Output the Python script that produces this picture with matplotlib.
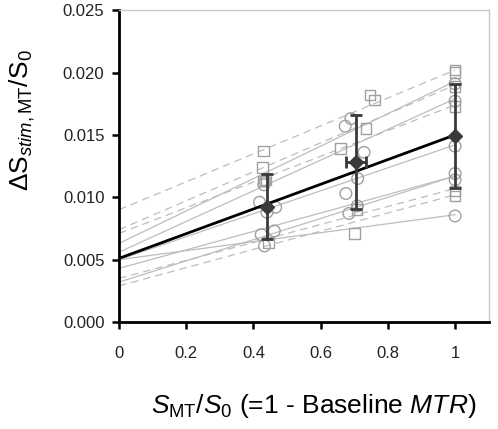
import matplotlib
matplotlib.use("Agg")
import matplotlib.pyplot as plt
import numpy as np

plt.rcParams['font.family'] = ['Liberation Sans', 'DejaVu Sans']
plt.rcParams['mathtext.fontset'] = 'custom'
plt.rcParams['mathtext.rm'] = 'Liberation Sans'
plt.rcParams['mathtext.it'] = 'Liberation Sans:italic'
plt.rcParams['mathtext.bf'] = 'Liberation Sans:bold'

# Individual subject fit lines: value at x=0 and value at x=1
dashed_start = [0.0090, 0.0074, 0.0071, 0.0035, 0.0029]
dashed_end = [0.0202, 0.0190, 0.0174, 0.0107, 0.0102]
solid_start = [0.0063, 0.0056, 0.0050, 0.0043, 0.0032, 0.0050]
solid_end = [0.0193, 0.0179, 0.0142, 0.0117, 0.0117, 0.0086]

# Square markers
sq_x = [0.430, 0.428, 0.429, 0.437, 0.444,
        0.747, 0.761, 0.735, 0.660, 0.708, 0.701,
        1.0, 1.0, 1.0, 1.0, 1.0, 1.0]
sq_y = [0.0137, 0.0124, 0.0113, 0.0114, 0.0064,
        0.0182, 0.0178, 0.0155, 0.0139, 0.0090, 0.0071,
        0.0202, 0.0200, 0.0189, 0.0173, 0.0105, 0.0101]

# Circle markers
ci_x = [0.418, 0.466, 0.440, 0.423, 0.462, 0.433, 0.435, 0.431,
        0.690, 0.673, 0.729, 0.710, 0.675, 0.684, 0.709,
        1.0, 1.0, 1.0, 1.0, 1.0, 1.0]
ci_y = [0.0096, 0.0092, 0.0088, 0.0070, 0.0073, 0.0061, 0.0113, 0.0110,
        0.0163, 0.0157, 0.0136, 0.0115, 0.0103, 0.0087, 0.0093,
        0.0191, 0.0177, 0.0141, 0.0119, 0.0114, 0.0085]

# Group means with error bars
mean_x = [0.44, 0.705, 1.0]
mean_y = [0.00925, 0.0128, 0.0149]
mean_yerr_lo = [0.00261, 0.00376, 0.00418]
mean_yerr_hi = [0.00259, 0.00379, 0.00417]
mean_xerr = [0.0, 0.031, 0.0]

# Group mean fit line
fit_start = 0.0051
fit_end = 0.0150

fig = plt.figure(figsize=(4.98, 4.29), dpi=100)
ax = fig.add_axes([0.239, 0.2494, 0.743, 0.727])

gray = '#bdbdbd'
for s, e in zip(solid_start, solid_end):
    ax.plot([0, 1], [s, e], color=gray, lw=0.9, zorder=1)
for s, e in zip(dashed_start, dashed_end):
    ax.plot([0, 1], [s, e], color=gray, lw=0.9, ls=(0, (6, 4)), zorder=1)

ax.scatter(sq_x, sq_y, marker='s', s=60, facecolors='none', edgecolors='#a0a0a0', linewidths=1.0, zorder=2)
ax.scatter(ci_x, ci_y, marker='o', s=70, facecolors='none', edgecolors='#a0a0a0', linewidths=1.0, zorder=2)

ax.plot([0, 1], [fit_start, fit_end], color='black', lw=2.0, zorder=3)

ax.errorbar(mean_x, mean_y, yerr=[mean_yerr_lo, mean_yerr_hi], xerr=mean_xerr,
            fmt='D', color='#3a3a3a', ms=7, elinewidth=2.0, capsize=4, capthick=2.0, zorder=4)

ax.set_xlim(0, 1.101)
ax.set_ylim(0, 0.025)
ax.set_xticks([0, 0.2, 0.4, 0.6, 0.8, 1.0])
ax.set_xticklabels(['0', '0.2', '0.4', '0.6', '0.8', '1'])
ax.set_yticks([0, 0.005, 0.01, 0.015, 0.02, 0.025])
ax.set_yticklabels(['0.000', '0.005', '0.010', '0.015', '0.020', '0.025'])
ax.tick_params(direction='out', length=5, width=1.8, labelsize=12, colors='black', labelcolor='#222222', pad=5.5)
ax.tick_params(axis='x', pad=12)

for sp in ['left', 'bottom']:
    ax.spines[sp].set_linewidth(2.0)
    ax.spines[sp].set_color('black')
for sp in ['top', 'right']:
    ax.spines[sp].set_linewidth(1.0)
    ax.spines[sp].set_color('#c8c8c8')

ax.set_xlabel(r'$S_{\mathrm{MT}}/S_0$ (=1 - Baseline $MTR$)', fontsize=19)
ax.xaxis.set_label_coords(0.527, -0.225)
ax.set_ylabel(r'$\Delta\mathrm{S}_{\mathit{stim},\mathrm{MT}}/\mathrm{S}_0$', fontsize=19)
ax.yaxis.set_label_coords(-0.222, 0.647)

fig.savefig('out.png', dpi=100)
